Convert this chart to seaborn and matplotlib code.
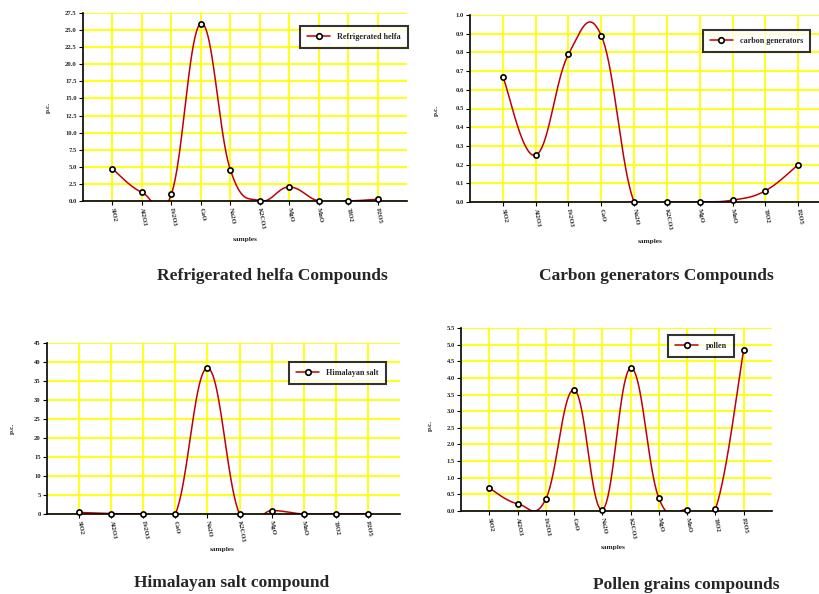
import numpy as np
import pandas as pd
import matplotlib
matplotlib.use("Agg")
import matplotlib.pyplot as plt
from matplotlib.lines import Line2D
import seaborn as sns

# sample names (oxides) on the x axis
samples = ["SiO2", "Al2O3", "Fe2O3", "CaO", "Na2O", "K2CO3", "MgO", "MnO", "TiO2", "P2O5"]

# values (p.c.)
helfa = [4.7, 1.27, 1.0, 25.95, 4.6, 0.05, 2.05, 0.0, 0.0, 0.25]
carbon = [0.67, 0.25, 0.79, 0.89, 0.0, 0.0, 0.0, 0.01, 0.06, 0.2]
salt = [0.4, 0.1, 0.0, 0.0, 38.4, 0.0, 0.9, 0.0, 0.0, 0.0]
pollen = [0.69, 0.22, 0.36, 3.64, 0.04, 4.29, 0.38, 0.03, 0.06, 4.85]

sns.set_theme(style="white")
plt.rcParams["font.family"] = ["Liberation Serif", "DejaVu Serif"]

RED = "#c00000"
YELLOW = "#ffff00"


def smooth(vals, n=40, k=5.0):
    # excel-like smoothed line through the points (bezier segments)
    p = np.column_stack([np.arange(len(vals)), np.array(vals, dtype=float)])
    xs, ys = [], []
    for i in range(len(p) - 1):
        p0 = p[i - 1] if i > 0 else p[i]
        p3 = p[i + 2] if i + 2 < len(p) else p[i + 1]
        c1 = p[i] + (p[i + 1] - p0) / k
        c2 = p[i + 1] - (p3 - p[i]) / k
        t = np.linspace(0, 1, n)[:, None]
        b = ((1 - t) ** 3) * p[i] + 3 * ((1 - t) ** 2) * t * c1 + 3 * (1 - t) * t ** 2 * c2 + t ** 3 * p[i + 1]
        xs.extend(b[:, 0])
        ys.extend(b[:, 1])
    return pd.DataFrame({"x": xs, "y": ys})


def panel(fig, rect_px, vals, yticks, fmt, label, leg_xy):
    W, H = 820, 594
    l, t, r, b = rect_px
    ax = fig.add_axes([l / W, 1 - b / H, (r - l) / W, (b - t) / H])
    curve = smooth(vals)
    sns.lineplot(data=curve, x="x", y="y", sort=False, color=RED, lw=1.1, ax=ax)
    pts = pd.DataFrame({"x": np.arange(len(vals)), "y": vals})
    sns.scatterplot(data=pts, x="x", y="y", marker="o", s=14, color="white",
                    edgecolor="black", linewidth=1.2, zorder=5, clip_on=False, ax=ax)
    ax.set_xlim(-1, 10)
    ax.set_ylim(yticks[0], yticks[-1])
    ax.set_xticks(range(len(samples)))
    ax.set_xticklabels(samples, rotation=-80, rotation_mode="anchor", ha="left", va="center",
                       fontsize=4.8, fontweight="bold")
    ax.set_yticks(yticks)
    ax.set_yticklabels([fmt.format(v) for v in yticks], fontsize=4.8, fontweight="bold")
    ax.grid(True, color=YELLOW, lw=1.3)
    ax.set_axisbelow(True)
    for s in ["top", "right"]:
        ax.spines[s].set_visible(False)
    for s in ["left", "bottom"]:
        ax.spines[s].set_color("black")
        ax.spines[s].set_linewidth(1.2)
    ax.tick_params(axis="both", which="both", direction="out", length=3, width=0.8,
                   color="black", pad=1.5, left=True, bottom=True)
    ax.set_xlabel("")
    ax.set_ylabel("")
    h = Line2D([], [], color=RED, lw=1.1, marker="o", ms=4, mfc="white", mec="black", mew=1.2)
    leg = ax.legend([h], [label], loc="upper left", bbox_to_anchor=leg_xy, borderaxespad=0,
                    frameon=True, fancybox=False, edgecolor="black",
                    prop={"size": 5.9, "weight": "bold"}, handlelength=2.8,
                    borderpad=0.85, handletextpad=0.9)
    leg.get_frame().set_linewidth(1.5)
    return ax


fig = plt.figure(figsize=(8.2, 5.94), dpi=100)
fig.patch.set_facecolor("white")

panel(fig, (83, 13, 407, 201), helfa, np.arange(0, 27.6, 2.5), "{:.1f}",
      "Refrigerated helfa", (0.67, 0.93))
panel(fig, (470, 15, 831, 202), carbon, np.round(np.arange(0, 1.01, 0.1), 1), "{:.1f}",
      "carbon generators", (0.645, 0.92))
panel(fig, (47, 343, 400, 514), salt, np.arange(0, 46, 5), "{:.0f}",
      "Himalayan salt", (0.686, 0.89))
panel(fig, (461, 328, 772, 511), pollen, np.arange(0, 5.6, 0.5), "{:.1f}",
      "pollen", (0.666, 0.96))

W, H = 820, 594


def ftext(x, y, s, **kw):
    fig.text(x / W, 1 - y / H, s, ha="center", va="center", **kw)


# axis labels
for x, y in [(245, 240), (650, 242), (222, 550), (613, 548)]:
    ftext(x, y, "samples", fontsize=5.3, fontweight="bold")
for x, y in [(48, 107), (436, 110), (12, 428), (430, 425)]:
    ftext(x, y, "p.c.", fontsize=5.3, fontweight="bold", rotation=90)

# panel titles
ftext(272, 276, "Refrigerated helfa Compounds", fontsize=12.5, fontweight="bold")
ftext(656, 276, "Carbon generators Compounds", fontsize=12.5, fontweight="bold")
ftext(232, 583, "Himalayan salt compound", fontsize=12.5, fontweight="bold")
ftext(686, 585, "Pollen grains compounds", fontsize=12.5, fontweight="bold")

fig.savefig("out.png", dpi=100, facecolor="white")
